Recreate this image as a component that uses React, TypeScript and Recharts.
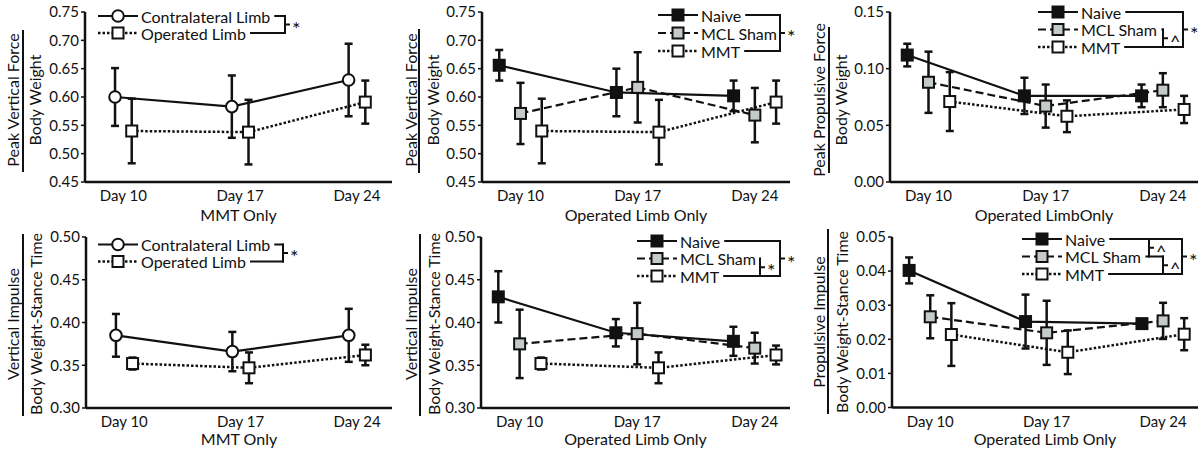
import React from 'react';
import { LineChart, Line, XAxis, YAxis, ErrorBar, Legend } from 'recharts';

const days = [10, 17, 24];

// peak vertical force / body weight
const vfTicks = [0.45, 0.5, 0.55, 0.6, 0.65, 0.7, 0.75];
const vfContraMean = [0.6, 0.583, 0.63];
const vfContraSd = [0.051, 0.055, 0.064];
const vfOperMean = [0.54, 0.538, 0.591];
const vfOperSd = [0.057, 0.057, 0.038];
const vfNaiveMean = [0.656, 0.608, 0.602];
const vfNaiveSd = [0.027, 0.042, 0.027];
const vfShamMean = [0.571, 0.617, 0.568];
const vfShamSd = [0.054, 0.062, 0.048];
const vfMmtMean = [0.54, 0.538, 0.591];
const vfMmtSd = [0.057, 0.057, 0.038];

// peak propulsive force / body weight
const pfTicks = [0, 0.05, 0.1, 0.15];
const pfNaiveMean = [0.112, 0.076, 0.076];
const pfNaiveSd = [0.01, 0.016, 0.01];
const pfShamMean = [0.088, 0.067, 0.081];
const pfShamSd = [0.027, 0.019, 0.015];
const pfMmtMean = [0.071, 0.058, 0.064];
const pfMmtSd = [0.026, 0.014, 0.012];

// vertical impulse
const viTicks = [0.3, 0.35, 0.4, 0.45, 0.5];
const viContraMean = [0.385, 0.366, 0.385];
const viContraSd = [0.025, 0.023, 0.031];
const viOperMean = [0.352, 0.347, 0.362];
const viOperSd = [0.007, 0.018, 0.012];
const viNaiveMean = [0.43, 0.388, 0.378];
const viNaiveSd = [0.03, 0.016, 0.017];
const viShamMean = [0.375, 0.387, 0.37];
const viShamSd = [0.04, 0.036, 0.018];
const viMmtMean = [0.352, 0.347, 0.362];
const viMmtSd = [0.007, 0.018, 0.011];

// propulsive impulse
const piTicks = [0, 0.01, 0.02, 0.03, 0.04, 0.05];
const piNaiveMean = [0.0402, 0.0252, 0.0246];
const piNaiveSd = [0.0038, 0.0079, 0.0012];
const piShamMean = [0.0266, 0.0219, 0.0254];
const piShamSd = [0.0063, 0.0094, 0.0053];
const piMmtMean = [0.0214, 0.0162, 0.0215];
const piMmtSd = [0.0092, 0.0064, 0.0047];

const INK = '#111';
const FONT = 'Lato, "Open Sans", sans-serif';

type Style = { shape: 'circle' | 'square'; fill: string; dash?: string; width: number };

const styles: Record<string, Style> = {
  contra: { shape: 'circle', fill: '#fff', width: 2.2 },
  oper: { shape: 'square', fill: '#fff', dash: '2.5 2', width: 2.5 },
  naive: { shape: 'square', fill: '#111', width: 2.2 },
  sham: { shape: 'square', fill: '#c5caca', dash: '8 4', width: 2.2 },
  mmt: { shape: 'square', fill: '#fff', dash: '2.5 2', width: 2.5 },
};

// horizontal nudge (in days) so the groups don't overlap
const offsets: Record<number, number[]> = { 2: [-0.5, 0.5], 3: [-1.27, 0, 1.27] };

const twoGroups = (cm, cs, om, os) => [
  { name: 'Contralateral Limb', style: 'contra', mean: cm, sd: cs },
  { name: 'Operated Limb', style: 'oper', mean: om, sd: os },
];
const threeGroups = (nm, ns, sm, ss, mm, ms) => [
  { name: 'Naive', style: 'naive', mean: nm, sd: ns },
  { name: 'MCL Sham', style: 'sham', mean: sm, sd: ss },
  { name: 'MMT', style: 'mmt', mean: mm, sd: ms },
];

const panels = [
  {
    series: twoGroups(vfContraMean, vfContraSd, vfOperMean, vfOperSd),
    yLabel: ['Peak Vertical Force', 'Body Weight'], xLabel: 'MMT Only',
    domain: [0.45, 0.75], ticks: vfTicks, col: 0, row: 0,
    layout: { axisX: 85, right: 8, top: 12, bottom: 182, h: 224 },
    frac: { nx: 12, lx: 23, dx: 34, y1: 30, y2: 172, cy: 100 },
    legend: { lx: 98, y0: 16, dy: 17, brackets: [{ a: 0, b: 1, x: 285, sym: '*' }] },
  },
  {
    series: threeGroups(vfNaiveMean, vfNaiveSd, vfShamMean, vfShamSd, vfMmtMean, vfMmtSd),
    yLabel: ['Peak Vertical Force', 'Body Weight'], xLabel: 'Operated Limb Only',
    domain: [0.45, 0.75], ticks: vfTicks, col: 1, row: 0,
    layout: { axisX: 82, right: 10, top: 12, bottom: 182, h: 224 },
    frac: { nx: 10, lx: 19, dx: 32, y1: 29, y2: 173, cy: 100 },
    legend: { lx: 258, y0: 15, dy: 18, brackets: [{ a: 0, b: 2, x: 380, sym: '*' }] },
  },
  {
    series: threeGroups(pfNaiveMean, pfNaiveSd, pfShamMean, pfShamSd, pfMmtMean, pfMmtSd),
    yLabel: ['Peak Propulsive Force', 'Body Weight'], xLabel: 'Operated LimbOnly',
    domain: [0, 0.15], ticks: pfTicks, col: 2, row: 0,
    layout: { axisX: 90, right: 2, top: 12, bottom: 182, h: 224 },
    frac: { nx: 18, lx: 29, dx: 40, y1: 27, y2: 173, cy: 100 },
    legend: {
      lx: 238, y0: 12, dy: 17.5,
      brackets: [{ a: 1, b: 2, x: 363, sym: '^' }, { a: 0, b: 2, x: 383, sym: '*' }],
    },
  },
  {
    series: twoGroups(viContraMean, viContraSd, viOperMean, viOperSd),
    yLabel: ['Vertical Impulse', 'Body Weight-Stance Time'], xLabel: 'MMT Only',
    domain: [0.3, 0.5], ticks: viTicks, col: 0, row: 1,
    layout: { axisX: 86, right: 8, top: 13, bottom: 184, h: 225 },
    frac: { nx: 12, lx: 23, dx: 35, y1: 10, y2: 192, cy: 100 },
    legend: { lx: 98, y0: 20.5, dy: 17, brackets: [{ a: 0, b: 1, x: 283, sym: '*' }] },
  },
  {
    series: threeGroups(viNaiveMean, viNaiveSd, viShamMean, viShamSd, viMmtMean, viMmtSd),
    yLabel: ['Vertical Impulse', 'Body Weight-Stance Time'], xLabel: 'Operated Limb Only',
    domain: [0.3, 0.5], ticks: viTicks, col: 1, row: 1,
    layout: { axisX: 81, right: 10, top: 13, bottom: 184, h: 225 },
    frac: { nx: 10, lx: 20, dx: 33, y1: 10, y2: 192, cy: 100 },
    legend: {
      lx: 237, y0: 17, dy: 17.5,
      brackets: [{ a: 1, b: 2, x: 360, sym: '*' }, { a: 0, b: 2, x: 380, sym: '*' }],
    },
  },
  {
    series: threeGroups(piNaiveMean, piNaiveSd, piShamMean, piShamSd, piMmtMean, piMmtSd),
    yLabel: ['Propulsive Impulse', 'Body Weight-Stance Time'], xLabel: 'Operated Limb Only',
    domain: [0, 0.05], ticks: piTicks, col: 2, row: 1,
    layout: { axisX: 92, right: 2, top: 13, bottom: 183.5, h: 225 },
    frac: { nx: 18, lx: 28, dx: 41, y1: 5, y2: 190, cy: 98 },
    legend: {
      lx: 222, y0: 15, dy: 17.5,
      brackets: [
        { a: 0, b: 1, x: 349, sym: '^' },
        { a: 1, b: 2, x: 363, sym: '^' },
        { a: 0, b: 2, x: 382, sym: '*' },
      ],
    },
  },
];

let ctx: CanvasRenderingContext2D | null = null;
function textWidth(s: string, size: number) {
  if (!ctx) ctx = document.createElement('canvas').getContext('2d');
  if (!ctx) return s.length * size * 0.5;
  ctx.font = `${size}px Lato`;
  return ctx.measureText(s).width;
}

function Marker({ cx, cy, s }: { cx: number; cy: number; s: Style }) {
  if (s.shape === 'circle') {
    return <circle cx={cx} cy={cy} r={5.8} fill={s.fill} stroke={INK} strokeWidth={2} />;
  }
  return <rect x={cx - 5.5} y={cy - 5.5} width={11} height={11} fill={s.fill} stroke={INK} strokeWidth={2} />;
}

function FractionLabel({ p }) {
  const f = p.frac;
  return (
    <g fontFamily={FONT} fontSize={16} fill={INK}>
      <text x={f.nx} y={f.cy} transform={`rotate(-90 ${f.nx} ${f.cy})`} textAnchor="middle" dominantBaseline="central">
        {p.yLabel[0]}
      </text>
      <line x1={f.lx} x2={f.lx} y1={f.y1} y2={f.y2} stroke={INK} strokeWidth={2} />
      <text x={f.dx} y={f.cy} transform={`rotate(-90 ${f.dx} ${f.cy})`} textAnchor="middle" dominantBaseline="central">
        {p.yLabel[1]}
      </text>
    </g>
  );
}

function LegendOverlay({ p }) {
  const g = p.legend;
  const rowY = (i: number) => g.y0 + i * g.dy;
  return (
    <svg width={400} height={p.layout.h} style={{ display: 'block', overflow: 'visible' }}>
      {p.series.map((s, i) => {
        const y = rowY(i);
        const st = styles[s.style];
        const tx = g.lx + 43;
        const tEnd = tx + textWidth(s.name, 16) + 4;
        const ends = g.brackets.filter((b) => b.a === i || b.b === i).map((b) => b.x);
        return (
          <g key={s.name}>
            <line x1={g.lx} x2={g.lx + 40} y1={y} y2={y} stroke={INK} strokeWidth={st.width} strokeDasharray={st.dash} />
            <Marker cx={g.lx + 20} cy={y} s={st} />
            <text x={tx} y={y} dominantBaseline="central" fontSize={16} fontFamily={FONT} fill={INK}>
              {s.name}
            </text>
            {ends.length > 0 && (
              <line x1={tEnd} x2={Math.max(...ends) + 1} y1={y} y2={y} stroke={INK} strokeWidth={2} />
            )}
          </g>
        );
      })}
      {g.brackets.map((b, k) => {
        const ya = rowY(b.a);
        const yb = rowY(b.b);
        const ym = (ya + yb) / 2;
        const star = b.sym === '*';
        return (
          <g key={k}>
            <line x1={b.x} x2={b.x} y1={ya - 1} y2={yb + 1} stroke={INK} strokeWidth={2} />
            <line x1={b.x} x2={b.x + 5} y1={ym} y2={ym} stroke={INK} strokeWidth={2} />
            <text x={b.x + 7} y={ym + (star ? 11 : 10)} fontSize={star ? 20 : 18} fontFamily={FONT} fill={INK}>
              {b.sym}
            </text>
          </g>
        );
      })}
    </svg>
  );
}

function Panel({ p }) {
  const L = p.layout;
  const rows = p.series.map((s, i) =>
    days.map((d, j) => ({ x: d + offsets[p.series.length][i], y: s.mean[j], e: s.sd[j] }))
  );
  const fmt = (v: number) => v.toFixed(2);
  return (
    <LineChart
      width={400}
      height={L.h}
      margin={{ top: L.top, right: L.right, bottom: 0, left: 0 }}
      style={{ fontFamily: FONT }}
    >
      <XAxis
        type="number"
        dataKey="x"
        domain={[7.7, 26.1]}
        ticks={days}
        interval={0}
        tickFormatter={(d) => `Day ${d}`}
        height={L.h - L.bottom}
        tickLine={false}
        tickSize={6}
        tickMargin={2.5}
        axisLine={{ stroke: INK, strokeWidth: 2.5 }}
        tick={{ fill: INK, fontSize: 15, fontFamily: FONT }}
        label={{ value: p.xLabel, position: 'insideBottom', offset: L.h - 220.5, fill: INK, fontSize: 16, fontFamily: FONT }}
      />
      <YAxis
        type="number"
        domain={p.domain}
        ticks={p.ticks}
        interval={0}
        width={L.axisX}
        tickFormatter={fmt}
        tickSize={4}
        tickMargin={2}
        tickLine={{ stroke: INK, strokeWidth: 1.5 }}
        axisLine={{ stroke: INK, strokeWidth: 2.5 }}
        tick={{ fill: INK, fontSize: 15, fontFamily: FONT }}
        label={{ content: () => <FractionLabel p={p} /> }}
      />
      {p.series.map((s, i) => {
        const st = styles[s.style];
        return (
          <Line
            key={s.name}
            name={s.name}
            data={rows[i]}
            dataKey="y"
            type="linear"
            stroke={INK}
            strokeWidth={st.width}
            strokeDasharray={st.dash}
            dot={false}
            activeDot={false}
            isAnimationActive={false}
          >
            <ErrorBar dataKey="e" direction="y" width={4} strokeWidth={2.5} stroke={INK} />
          </Line>
        );
      })}
      {p.series.map((s, i) => {
        const st = styles[s.style];
        return (
          <Line
            key={s.name + '-marks'}
            data={rows[i]}
            dataKey="y"
            stroke="none"
            legendType="none"
            activeDot={false}
            isAnimationActive={false}
            dot={(props) => <Marker key={`m-${i}-${props.index}`} cx={props.cx} cy={props.cy} s={st} />}
          />
        );
      })}
      <Legend
        layout="horizontal"
        verticalAlign="middle"
        align="center"
        content={() => <LegendOverlay p={p} />}
        wrapperStyle={{ left: 0, top: 0, width: 400, height: L.h, pointerEvents: 'none' }}
      />
    </LineChart>
  );
}

export default function App() {
  return (
    <div style={{ position: 'absolute', left: 0, top: 0, width: 1200, height: 449, background: '#fff' }}>
      {panels.map((p, k) => (
        <div key={k} style={{ position: 'absolute', left: p.col * 400, top: p.row * 224 }}>
          <Panel p={p} />
        </div>
      ))}
    </div>
  );
}
